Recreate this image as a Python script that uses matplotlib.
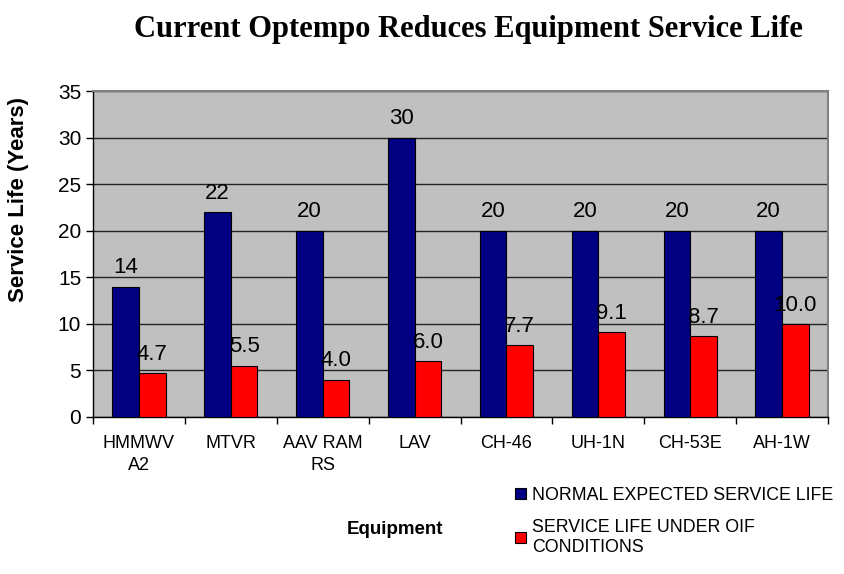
"""Service life bar chart: normal vs OIF conditions."""

import matplotlib

matplotlib.use("Agg")
import matplotlib.pyplot as plt
import numpy as np

equipment = ["HMMWV\nA2", "MTVR", "AAV RAM\nRS", "LAV", "CH-46", "UH-1N", "CH-53E", "AH-1W"]
normal_life = [14, 22, 20, 30, 20, 20, 20, 20]
oif_life = [4.7, 5.5, 4.0, 6.0, 7.7, 9.1, 8.7, 10.0]
normal_labels = ["14", "22", "20", "30", "20", "20", "20", "20"]
oif_labels = ["4.7", "5.5", "4.0", "6.0", "7.7", "9.1", "8.7", "10.0"]
series_names = ["NORMAL EXPECTED SERVICE LIFE", "SERVICE LIFE UNDER OIF\nCONDITIONS"]

plt.rcParams["font.family"] = ["Liberation Sans", "DejaVu Sans"]

fig = plt.figure(figsize=(8.44, 5.74), dpi=100)
ax = fig.add_axes([93 / 844, 1 - 417 / 574, 735 / 844, 326 / 574])
ax.set_facecolor("#C0C0C0")

x = np.arange(len(equipment))
w = 0.29
b1 = ax.bar(x - w / 2, normal_life, w, color="#000080", edgecolor="black", linewidth=0.8,
            label=series_names[0], zorder=3)
b2 = ax.bar(x + w / 2, oif_life, w, color="#FF0000", edgecolor="black", linewidth=0.8,
            label=series_names[1], zorder=3)

for rect, txt in zip(b1, normal_labels):
    ax.annotate(txt, (rect.get_x() + rect.get_width() / 2, rect.get_height()),
                xytext=(0, 6), textcoords="offset points", ha="center", va="bottom", fontsize=16)
for rect, txt in zip(b2, oif_labels):
    ax.annotate(txt, (rect.get_x() + rect.get_width() / 2, rect.get_height()),
                xytext=(0, 6), textcoords="offset points", ha="center", va="bottom", fontsize=16)

ax.set_xlim(-0.5, len(equipment) - 0.5)
ax.set_ylim(0, 35)
ax.set_yticks(range(0, 36, 5))
ax.tick_params(axis="y", labelsize=15, length=5, width=1, direction="out")
ax.set_xticks(x)
ax.set_xticklabels(equipment, fontsize=13, linespacing=1.35)
ax.tick_params(axis="x", length=0, pad=13)
ax.set_xticks(np.arange(-0.5, len(equipment), 1), minor=True)
ax.tick_params(axis="x", which="minor", length=5, width=1, direction="out")

ax.yaxis.grid(True, color="#222222", linewidth=1, zorder=0)
ax.set_axisbelow(True)
for s in ["top", "right"]:
    ax.spines[s].set_color("#808080")
    ax.spines[s].set_linewidth(1.5)
for s in ["left", "bottom"]:
    ax.spines[s].set_color("black")
    ax.spines[s].set_linewidth(1)

ax.set_ylabel("Service Life (Years)", fontsize=16, fontweight="bold")
ax.yaxis.set_label_coords(29 / 844, (574 - 199) / 574, transform=fig.transFigure)
fig.text(395 / 844, 1 - 530 / 574, "Equipment", fontsize=13.5, fontweight="bold",
         ha="center", va="center")
fig.text(468 / 844, 1 - 30 / 574, "Current Optempo Reduces Equipment Service Life",
         family=["Liberation Serif", "DejaVu Serif"], fontsize=22, fontweight="bold",
         ha="center", va="center")

fig.legend(handles=[b1, b2], loc="upper left", bbox_to_anchor=(508 / 844, 1 - 480 / 574),
           frameon=False, fontsize=12.8, handlelength=0.6, handleheight=0.6, handletextpad=0.35,
           labelspacing=0.85, borderaxespad=0)

fig.savefig("out.png", dpi=100)
